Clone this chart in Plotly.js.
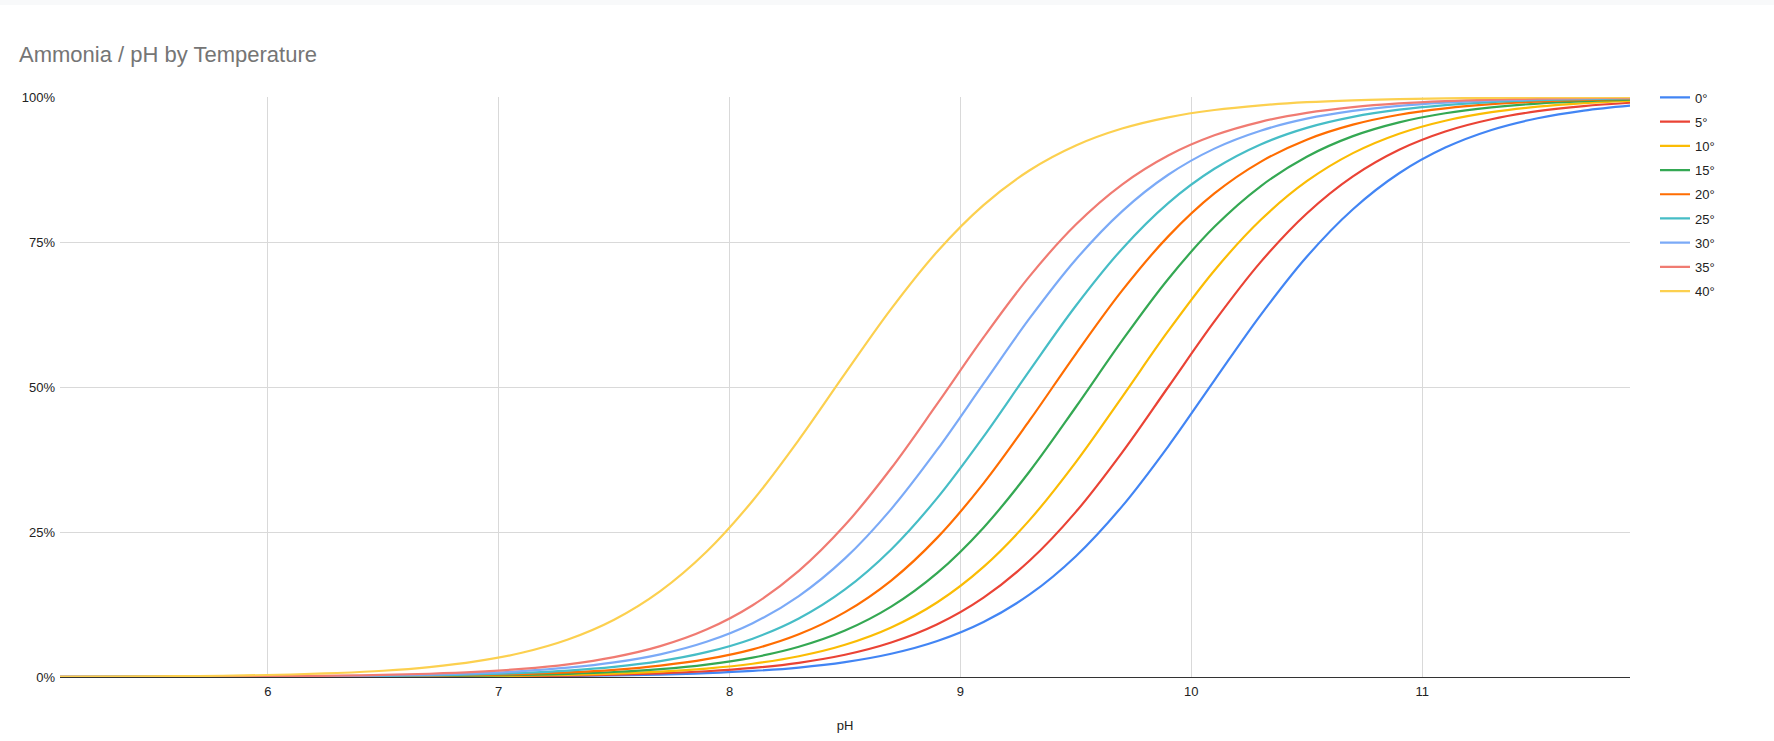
<!DOCTYPE html>
<html>
<head>
<meta charset="utf-8">
<script src="https://cdn.plot.ly/plotly-3.0.1.min.js"></script>
<style>
  html, body { margin: 0; padding: 0; background: #ffffff; }
  #topbar { position: absolute; left: 0; top: 0; width: 1774px; height: 5px; background: #f8f9fa; z-index: 5; }
  #chart { width: 1774px; height: 741px; }
</style>
</head>
<body>
<div id="topbar"></div>
<div id="chart"></div>
<script>
// pH values (x axis)
const pH = [5.1,5.3,5.5,5.7,5.9,6.1,6.3,6.5,6.7,6.9,7.1,7.3,7.5,7.7,7.9,8.1,8.3,8.5,8.7,8.9,9.1,9.3,9.5,9.7,9.9,10.1,10.3,10.5,10.7,10.9,11.1,11.3,11.5,11.7,11.9];

// Fraction of un-ionized ammonia, one array per temperature
const t0  = [0,0,0,0,0.0001,0.0001,0.0002,0.0003,0.0004,0.0007,0.0010,0.0017,0.0026,0.0042,0.0066,0.0104,0.0163,0.0256,0.0400,0.0620,0.0948,0.1423,0.2083,0.2942,0.3978,0.5115,0.6240,0.7246,0.8065,0.8685,0.9128,0.9432,0.9634,0.9766,0.9851];
const t5  = [0,0,0,0.0001,0.0001,0.0002,0.0003,0.0004,0.0006,0.0010,0.0016,0.0025,0.0040,0.0063,0.0099,0.0156,0.0245,0.0383,0.0594,0.0909,0.1368,0.2008,0.2847,0.3869,0.5000,0.6131,0.7153,0.7992,0.8632,0.9091,0.9406,0.9617,0.9755,0.9844,0.9901];
const t10 = [0,0,0.0001,0.0001,0.0001,0.0002,0.0004,0.0006,0.0009,0.0015,0.0023,0.0037,0.0059,0.0093,0.0146,0.0229,0.0358,0.0556,0.0854,0.1289,0.1899,0.2709,0.3706,0.4827,0.5966,0.7010,0.7879,0.8548,0.9032,0.9367,0.9591,0.9738,0.9833,0.9894,0.9933];
const t15 = [0,0.0001,0.0001,0.0001,0.0002,0.0004,0.0006,0.0009,0.0014,0.0022,0.0035,0.0055,0.0086,0.0136,0.0214,0.0335,0.0521,0.0801,0.1213,0.1795,0.2575,0.3547,0.4655,0.5799,0.6863,0.7762,0.8461,0.8970,0.9325,0.9563,0.9720,0.9821,0.9887,0.9928,0.9955];
const t20 = [0.0001,0.0001,0.0001,0.0002,0.0003,0.0005,0.0008,0.0013,0.0020,0.0032,0.0050,0.0079,0.0124,0.0196,0.0307,0.0477,0.0736,0.1118,0.1663,0.2403,0.3339,0.4427,0.5573,0.6661,0.7597,0.8337,0.8882,0.9264,0.9523,0.9694,0.9804,0.9876,0.9921,0.9950,0.9969];
const t25 = [0.0001,0.0001,0.0002,0.0003,0.0004,0.0007,0.0011,0.0018,0.0028,0.0044,0.0070,0.0111,0.0175,0.0274,0.0428,0.0661,0.1009,0.1510,0.2199,0.3088,0.4145,0.5288,0.6401,0.7381,0.8171,0.8762,0.9182,0.9468,0.9657,0.9781,0.9861,0.9912,0.9944,0.9965,0.9978];
const t30 = [0.0001,0.0002,0.0003,0.0004,0.0007,0.0010,0.0016,0.0026,0.0041,0.0064,0.0101,0.0160,0.0251,0.0391,0.0607,0.0928,0.1396,0.2045,0.2895,0.3923,0.5058,0.6186,0.7199,0.8029,0.8659,0.9110,0.9419,0.9626,0.9760,0.9848,0.9903,0.9939,0.9961,0.9976,0.9985];
const t35 = [0.0001,0.0002,0.0004,0.0006,0.0009,0.0014,0.0022,0.0035,0.0056,0.0088,0.0139,0.0219,0.0343,0.0532,0.0818,0.1238,0.1829,0.2619,0.3599,0.4713,0.5855,0.6912,0.7801,0.8490,0.8991,0.9339,0.9572,0.9726,0.9825,0.9889,0.9930,0.9956,0.9972,0.9982,0.9989];
const t40 = [0.0004,0.0007,0.0011,0.0017,0.0027,0.0043,0.0069,0.0108,0.0171,0.0268,0.0418,0.0647,0.0988,0.1481,0.2159,0.3039,0.4089,0.5230,0.6347,0.7336,0.8136,0.8737,0.9164,0.9456,0.9650,0.9776,0.9857,0.9910,0.9943,0.9964,0.9977,0.9986,0.9991,0.9994,0.9996];

const seriesNames = ['0°','5°','10°','15°','20°','25°','30°','35°','40°'];
const seriesValues = [t0,t5,t10,t15,t20,t25,t30,t35,t40];
const seriesColors = ['#4285F4','#EA4335','#FBBC04','#34A853','#FF6D01','#46BDC6','#7BAAF7','#F07B72','#FCD04F'];

const xTicks = [6,7,8,9,10,11];
const yTicks = [0,0.25,0.5,0.75,1];
const yTickText = ['0%','25%','50%','75%','100%'];

const FONT = '"Liberation Sans", Arial, sans-serif';

const traces = seriesNames.map((name, i) => ({
  type: 'scatter',
  mode: 'lines',
  name: name,
  legendgroup: 'g' + i,
  x: pH,
  y: seriesValues[i],
  line: { color: seriesColors[i], width: 2.2, shape: 'spline', smoothing: 1 },
  hoverinfo: 'x+y+name'
}));

const layout = {
  width: 1774,
  height: 741,
  paper_bgcolor: '#ffffff',
  plot_bgcolor: '#ffffff',
  font: { family: FONT, size: 12, color: '#222222' },
  margin: { l: 60, r: 144, t: 97, b: 64, pad: 0 },
  title: {
    text: 'Ammonia / pH by Temperature',
    font: { family: FONT, size: 22, color: '#757575' },
    xref: 'container', yref: 'container',
    x: 19 / 1774, xanchor: 'left',
    y: 1 - 54 / 741, yanchor: 'middle'
  },
  xaxis: {
    range: [5.1, 11.9],
    tickmode: 'array',
    tickvals: xTicks,
    ticktext: xTicks.map(String),
    showgrid: true,
    gridcolor: '#d9d9d9',
    gridwidth: 1,
    zeroline: false,
    showline: true,
    linecolor: '#333333',
    linewidth: 1,
    ticks: '',
    ticklabelstandoff: 2,
    tickfont: { family: FONT, size: 13, color: '#222222' },
    automargin: false,
    title: { text: 'pH', font: { family: FONT, size: 13, color: '#222222' }, standoff: 23 }
  },
  yaxis: {
    range: [0, 1],
    tickmode: 'array',
    tickvals: yTicks,
    ticktext: yTickText,
    showgrid: true,
    gridcolor: '#d9d9d9',
    gridwidth: 1,
    zeroline: false,
    showline: false,
    ticks: '',
    ticklabelstandoff: 4,
    tickfont: { family: FONT, size: 13, color: '#222222' },
    automargin: false
  },
  showlegend: true,
  legend: {
    x: (1655 - 60) / 1570,
    xanchor: 'left',
    y: (677 - 82.5) / 580,
    yanchor: 'top',
    font: { family: FONT, size: 13, color: '#222222' },
    tracegroupgap: 4.3,
    bgcolor: 'rgba(0,0,0,0)',
    borderwidth: 0
  }
};

Plotly.newPlot('chart', traces, layout, { displayModeBar: false, responsive: false });
</script>
</body>
</html>
